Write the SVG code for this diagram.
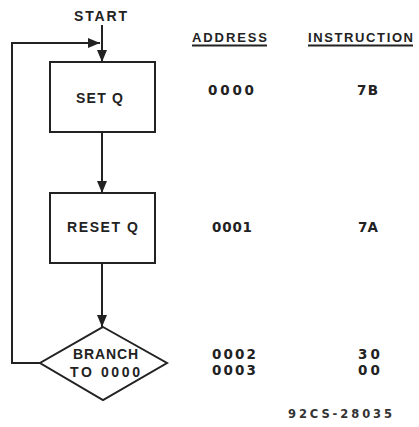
<svg xmlns="http://www.w3.org/2000/svg" width="419" height="427" viewBox="0 0 419 427">
<defs>
<style>
.ln{fill:none;stroke:#222;stroke-width:2}
.nd{fill:#fff;stroke:#222;stroke-width:2}
.t{font-family:"Liberation Sans",Arial,sans-serif;font-weight:bold;fill:#222;font-size:14px}
.n{font-family:"DejaVu Sans",sans-serif;font-weight:bold;fill:#222;font-size:13.5px}
.h{font-family:"Liberation Sans",Arial,sans-serif;font-weight:bold;fill:#222;font-size:13px}
.s{font-family:"DejaVu Sans",sans-serif;font-weight:bold;fill:#333;font-size:11.5px}
</style>
<marker id="ah" viewBox="0 0 12 10" refX="12" refY="5" markerWidth="12" markerHeight="10" markerUnits="userSpaceOnUse" orient="auto">
<path d="M0,0 L12,5 L0,10 Z" fill="#222"/>
</marker>
</defs>
<rect width="419" height="427" fill="#fff"/>
<g id="connectors">
<path class="ln" d="M102,25 V62" marker-end="url(#ah)"/>
<path class="ln" d="M40,363 H12 V43 H100" marker-end="url(#ah)"/>
<path class="ln" d="M102,132 V193" marker-end="url(#ah)"/>
<path class="ln" d="M102,263 V327" marker-end="url(#ah)"/>
</g>
<g id="start">
<text class="t" x="74" y="21" textLength="53" lengthAdjust="spacing">START</text>
</g>
<g id="set-q">
<rect class="nd" x="50" y="62" width="105" height="70"/>
<text class="t" x="76" y="103" textLength="47" lengthAdjust="spacing">SET Q</text>
</g>
<g id="reset-q">
<rect class="nd" x="50" y="193" width="105" height="70"/>
<text class="t" x="67" y="232" textLength="71" lengthAdjust="spacing">RESET Q</text>
</g>
<g id="branch">
<path class="nd" d="M103,327 L167,363 L103,400 L40,363 Z"/>
<text class="t" x="73" y="359" textLength="65" lengthAdjust="spacing">BRANCH</text>
<text class="t" x="70" y="377" textLength="70" lengthAdjust="spacing">TO 0000</text>
</g>
<g id="table">
<text class="h" x="192" y="42" textLength="75" lengthAdjust="spacing">ADDRESS</text>
<line class="ln" x1="192" y1="45.5" x2="267" y2="45.5" stroke-width="1.5"/>
<text class="h" x="308" y="42" textLength="105" lengthAdjust="spacing">INSTRUCTION</text>
<line class="ln" x1="308" y1="45.5" x2="413" y2="45.5" stroke-width="1.5"/>
<text class="n" x="208" y="95" textLength="46" lengthAdjust="spacing">0000</text>
<text class="n" x="357" y="95" textLength="21" lengthAdjust="spacing">7B</text>
<text class="n" x="212" y="232" textLength="40" lengthAdjust="spacing">0001</text>
<text class="n" x="358" y="232" textLength="20" lengthAdjust="spacing">7A</text>
<text class="n" x="212" y="359" textLength="44" lengthAdjust="spacing">0002</text>
<text class="n" x="212" y="375" textLength="44" lengthAdjust="spacing">0003</text>
<text class="n" x="358" y="359" textLength="22" lengthAdjust="spacing">30</text>
<text class="n" x="358" y="375" textLength="22" lengthAdjust="spacing">00</text>
</g>
<text class="s" x="288" y="418" textLength="104" lengthAdjust="spacing">92CS-28035</text>
</svg>
